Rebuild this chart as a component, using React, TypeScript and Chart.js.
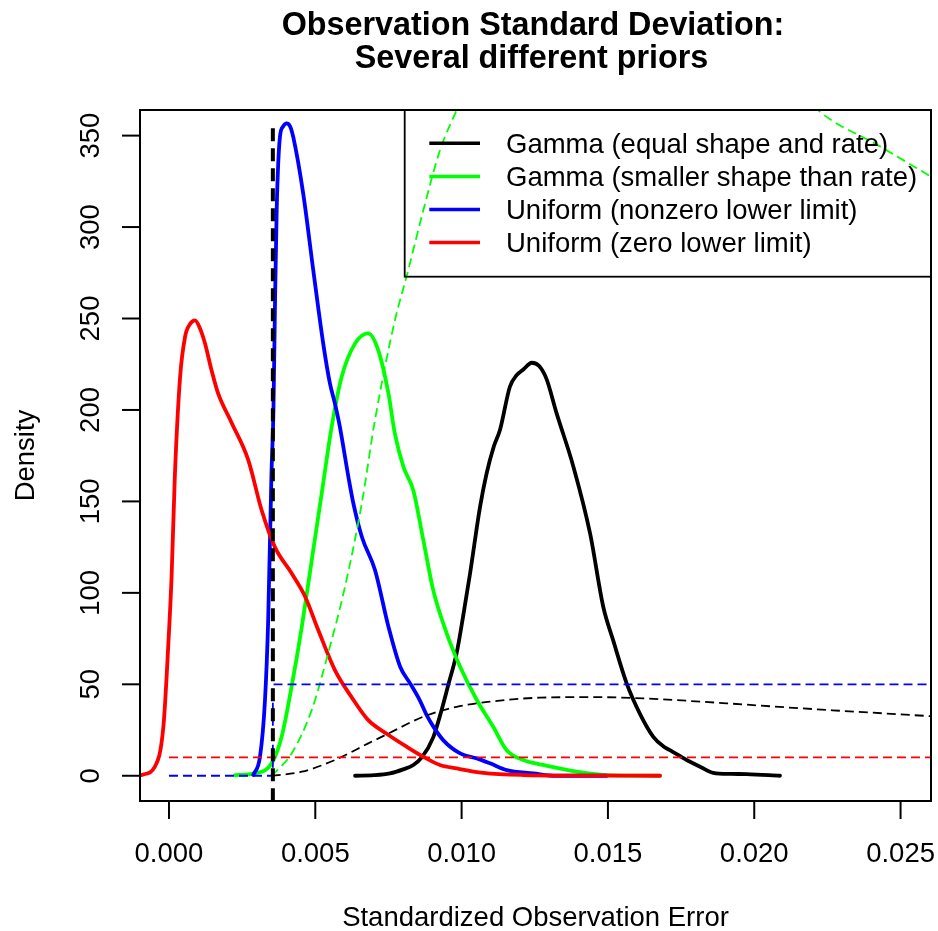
import React, { useEffect, useRef } from "react";
import { Chart, registerables } from "chart.js";

Chart.register(...registerables);

const FONT = '"Liberation Sans", Arial, Helvetica, sans-serif';

// ---- text ----
const titleLines = ["Observation Standard Deviation:", "Several different priors"];
const xAxisTitle = "Standardized Observation Error";
const yAxisTitle = "Density";
const legendLabels = [
  "Gamma (equal shape and rate)",
  "Gamma (smaller shape than rate)",
  "Uniform (nonzero lower limit)",
  "Uniform (zero lower limit)",
];
const legendColors = ["#000000", "#00ff00", "#0000ff", "#ff0000"];

// ---- ticks ----
const xTickValues = [0, 0.005, 0.01, 0.015, 0.02, 0.025];
const xTickLabels = ["0.000", "0.005", "0.010", "0.015", "0.020", "0.025"];
const yTickValues = [0, 50, 100, 150, 200, 250, 300, 350];
const yTickLabels = ["0", "50", "100", "150", "200", "250", "300", "350"];

// ---- posterior densities (solid) ----
const gammaEqualX = [0.00636, 0.007, 0.00755, 0.008, 0.00835, 0.00864, 0.00903, 0.0093, 0.00955, 0.00983, 0.01005, 0.01029, 0.01063, 0.01085, 0.0111, 0.01131, 0.01165, 0.01188, 0.0121, 0.0124, 0.01265, 0.0129, 0.01325, 0.01382, 0.01439, 0.01484, 0.01518, 0.01564, 0.01609, 0.01655, 0.0169, 0.01712, 0.01769, 0.0182, 0.0186, 0.0192, 0.01974, 0.02088];
const gammaEqualY = [0, 0.3, 1.3, 3.5, 5.9, 10, 21, 35, 50, 67, 87, 110.7, 147, 165, 180, 189, 212.7, 219, 222, 225.8, 224, 217, 198, 169, 132.5, 92.4, 74, 50.5, 34, 21.3, 16, 14, 8.6, 4.5, 1.6, 1.0, 0.9, 0];

const gammaSmallX = [0.00226, 0.00294, 0.00351, 0.00385, 0.00419, 0.00454, 0.00488, 0.00522, 0.00556, 0.0059, 0.00636, 0.00681, 0.00715, 0.0075, 0.00772, 0.00801, 0.00835, 0.00869, 0.00903, 0.00949, 0.00995, 0.01052, 0.01108, 0.01154, 0.01211, 0.01279, 0.01393, 0.01496, 0.01678];
const gammaSmallY = [0.4, 1.3, 6.8, 21.3, 48.7, 81.5, 118, 154.4, 190.8, 218, 236.4, 241.9, 232.7, 209, 187, 169, 156, 129, 101.5, 77.9, 59.6, 41.4, 26.8, 14, 8.6, 5.9, 2.2, 0.4, 0];

const unifNonzeroX = [0.00288, 0.00311, 0.00328, 0.00339, 0.0035, 0.00357, 0.00362, 0.00368, 0.00379, 0.0039, 0.00402, 0.00414, 0.00425, 0.00459, 0.00493, 0.00527, 0.0055, 0.00567, 0.00584, 0.00613, 0.0063, 0.00659, 0.00704, 0.0075, 0.0079, 0.00824, 0.00858, 0.00881, 0.00903, 0.00937, 0.00995, 0.01052, 0.01097, 0.01154, 0.01245, 0.01325, 0.01496];
const unifNonzeroY = [0.4, 10.4, 41, 85, 163.5, 200, 254.6, 309, 349, 355, 356.7, 355, 349, 318, 276.5, 236.4, 214.5, 203.6, 190.8, 163.5, 149, 130.7, 112.5, 81.5, 59.6, 50.5, 41, 33, 27, 19.5, 12.2, 9.5, 6.8, 3.1, 1.3, 0, 0];

const unifZeroX = [-0.00093, -0.00048, -0.00019, -0.00002, 0.00009, 0.0002, 0.00038, 0.00055, 0.00072, 0.00089, 0.00105, 0.00123, 0.00145, 0.00168, 0.00214, 0.00271, 0.00317, 0.00362, 0.00419, 0.00465, 0.0051, 0.00567, 0.00624, 0.00681, 0.00744, 0.00812, 0.00869, 0.00926, 0.00983, 0.01074, 0.01211, 0.014, 0.01678];
const unifZeroY = [0.4, 5, 27, 72.5, 109, 163.5, 218, 240, 247, 249, 245, 236.5, 222, 209, 193, 172.6, 145, 125, 110.7, 98, 79.7, 57.8, 43, 30.4, 23, 15.9, 10.4, 5.9, 4, 1.6, 0.4, 0.1, 0];

// ---- priors (thin dashed) ----
const priorGammaEqualX = [0.00351, 0.00454, 0.00567, 0.00681, 0.00755, 0.00869, 0.00983, 0.01097, 0.01268, 0.01439, 0.01621, 0.01906, 0.02157, 0.0261];
const priorGammaEqualY = [0, 2.2, 8.6, 17.7, 23.5, 32.3, 37.7, 40.5, 42.7, 43, 42.3, 39.6, 36.9, 32.5];

const priorGammaSmallX = [0.00351, 0.00419, 0.00488, 0.00544, 0.00601, 0.00659, 0.00704, 0.00772, 0.00812, 0.00869, 0.00926, 0.00983, 0.0105, 0.0115, 0.013, 0.015, 0.017, 0.019, 0.021, 0.02225, 0.0242, 0.0261];
const priorGammaSmallY = [0, 12.2, 36, 67, 103, 149, 194.5, 249, 273, 309, 342, 364, 390, 420, 450, 460, 450, 420, 385, 363, 345, 327];

const priorUnifNonzeroX = [0, 0.00355, 0.00355, 0.0261];
const priorUnifNonzeroY = [0, 0, 50, 50];

const priorUnifZeroX = [0, 0.0261];
const priorUnifZeroY = [10, 10];

// ---- lower limit marker ----
const lowerLimitX = [0.00355, 0.00355];
const lowerLimitY = [-14, 356];

const X_MIN = -0.00099;
const X_MAX = 0.02604;
const Y_MIN = -13.8;
const Y_MAX = 364;

function pts(xs: number[], ys: number[]) {
  return xs.map((x, i) => ({ x, y: ys[i] }));
}

const framePlugin = {
  id: "rFrame",
  afterDraw(chart: any) {
    const ctx: CanvasRenderingContext2D = chart.ctx;
    const { left, top, right, bottom } = chart.chartArea;
    const xs = chart.scales.x;
    const ys = chart.scales.y;
    ctx.save();
    ctx.strokeStyle = "#000";
    ctx.fillStyle = "#000";
    ctx.lineWidth = 2;
    ctx.setLineDash([]);
    // box
    ctx.strokeRect(left, top, right - left, bottom - top);
    // x ticks
    ctx.font = `27.5px ${FONT}`;
    ctx.textAlign = "center";
    ctx.textBaseline = "alphabetic";
    xTickValues.forEach((v, i) => {
      const px = xs.getPixelForValue(v);
      ctx.beginPath();
      ctx.moveTo(px, bottom);
      ctx.lineTo(px, bottom + 18);
      ctx.stroke();
      ctx.fillText(xTickLabels[i], px, bottom + 61);
    });
    // y ticks
    yTickValues.forEach((v, i) => {
      const py = ys.getPixelForValue(v);
      ctx.beginPath();
      ctx.moveTo(left, py);
      ctx.lineTo(left - 18, py);
      ctx.stroke();
      ctx.save();
      ctx.translate(left - 41, py);
      ctx.rotate(-Math.PI / 2);
      ctx.fillText(yTickLabels[i], 0, 0);
      ctx.restore();
    });
    // axis titles
    ctx.fillText(xAxisTitle, (left + right) / 2, bottom + 125);
    ctx.save();
    ctx.translate(33.5, (top + bottom) / 2);
    ctx.rotate(-Math.PI / 2);
    ctx.fillText(yAxisTitle, 0, 0);
    ctx.restore();
    // main title
    ctx.font = `bold 32.3px ${FONT}`;
    ctx.fillText(titleLines[0], 533, 34.5);
    ctx.fillText(titleLines[1], 531.5, 68);
    // legend
    const lx = 404.7;
    const lb = 276.7;
    ctx.lineWidth = 1.8;
    ctx.strokeRect(lx, top, right - lx, lb - top);
    ctx.font = `27.5px ${FONT}`;
    ctx.textAlign = "left";
    legendLabels.forEach((lab, i) => {
      const ry = top + 33.3 + i * 33.1;
      ctx.strokeStyle = legendColors[i];
      ctx.lineWidth = 3.5;
      ctx.lineCap = "butt";
      ctx.beginPath();
      ctx.moveTo(429.3, ry);
      ctx.lineTo(480, ry);
      ctx.stroke();
      ctx.fillStyle = "#000";
      ctx.fillText(lab, 506, ry + 9.8);
    });
    ctx.restore();
  },
};

export default function App() {
  const ref = useRef<HTMLCanvasElement | null>(null);
  useEffect(() => {
    if (!ref.current) return;
    const solid = (label: string, color: string, xs: number[], ys: number[]) => ({
      label,
      data: pts(xs, ys),
      borderColor: color,
      backgroundColor: color,
      borderWidth: 3.8,
      pointRadius: 0,
      fill: false,
      cubicInterpolationMode: "monotone" as const,
      borderJoinStyle: "round" as const,
      borderCapStyle: "round" as const,
      clip: 0,
    });
    const dashed = (label: string, color: string, xs: number[], ys: number[], smooth: boolean) => ({
      label,
      data: pts(xs, ys),
      borderColor: color,
      backgroundColor: color,
      borderWidth: 1.8,
      borderDash: [9, 5],
      pointRadius: 0,
      fill: false,
      cubicInterpolationMode: smooth ? ("monotone" as const) : ("default" as const),
      tension: 0,
      clip: 0,
    });
    const chart = new Chart(ref.current, {
      type: "line",
      data: {
        datasets: [
          {
            label: "lower limit",
            data: pts(lowerLimitX, lowerLimitY),
            borderColor: "#000",
            borderWidth: 4,
            borderDash: [13, 7],
            pointRadius: 0,
            fill: false,
            clip: 0,
          },
          dashed("prior uniform nonzero", "#0000ff", priorUnifNonzeroX, priorUnifNonzeroY, false),
          dashed("prior uniform zero", "#ff0000", priorUnifZeroX, priorUnifZeroY, false),
          dashed("prior gamma smaller", "#00ff00", priorGammaSmallX, priorGammaSmallY, true),
          dashed("prior gamma equal", "#000000", priorGammaEqualX, priorGammaEqualY, true),
          solid(legendLabels[3], "#ff0000", unifZeroX, unifZeroY),
          solid(legendLabels[2], "#0000ff", unifNonzeroX, unifNonzeroY),
          solid(legendLabels[1], "#00ff00", gammaSmallX, gammaSmallY),
          solid(legendLabels[0], "#000000", gammaEqualX, gammaEqualY),
        ] as any,
      },
      options: {
        animation: false,
        responsive: false,
        maintainAspectRatio: false,
        devicePixelRatio: 1,
        layout: { padding: { left: 140, top: 110, right: 7, bottom: 130 } },
        scales: {
          x: { type: "linear", display: false, min: X_MIN, max: X_MAX },
          y: { type: "linear", display: false, min: Y_MIN, max: Y_MAX },
        },
        plugins: {
          legend: { display: false },
          title: { display: false },
          tooltip: { enabled: false },
        },
        events: [],
      },
      plugins: [framePlugin],
    });
    return () => chart.destroy();
  }, []);
  return (
    <div style={{ position: "absolute", left: 0, top: 0, width: 938, height: 931, background: "#fff" }}>
      <canvas ref={ref} width={938} height={931} style={{ display: "block", width: 938, height: 931 }} />
    </div>
  );
}
